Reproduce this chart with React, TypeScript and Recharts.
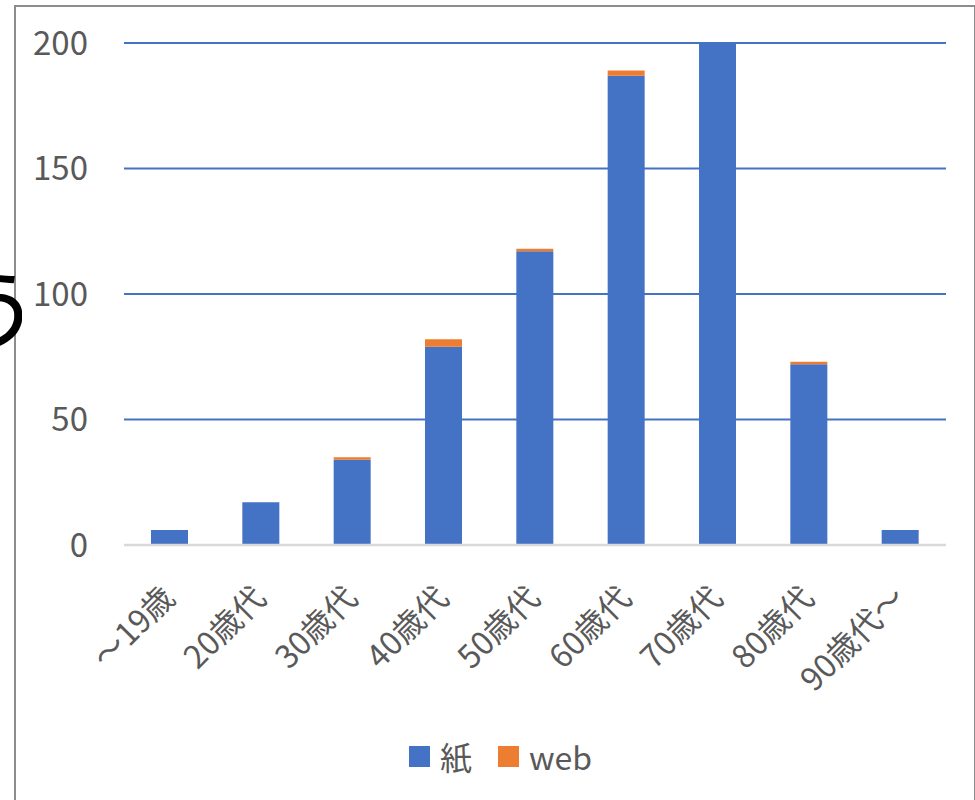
import { BarChart, Bar, XAxis, YAxis, CartesianGrid } from "recharts";

const AGES = ["～19歳", "20歳代", "30歳代", "40歳代", "50歳代", "60歳代", "70歳代", "80歳代", "90歳代～"];
const PAPER = [6, 17, 34, 79, 117, 187, 200, 72, 6];
const WEB = [0, 0, 1, 3, 1, 2, 0, 1, 0];
const Y_TICKS = [0, 50, 100, 150, 200];

const SERIES = [
  { key: "paper", name: "紙", color: "#4472C4" },
  { key: "web", name: "web", color: "#ED7D31" },
];

const FONT = '"Noto Sans CJK JP", "Noto Sans", sans-serif';
const TEXT_GRAY = "#595959";

const data = AGES.map((age, i) => ({ age, paper: PAPER[i], web: WEB[i] }));

function AgeTick({ x, y, payload }: any) {
  return (
    <g transform={`translate(${x + 7},${y + 47})`}>
      <text
        textAnchor="end"
        transform="rotate(-45)"
        fill={TEXT_GRAY}
        fontSize={32}
        fontFamily={FONT}
      >
        {payload.value}
      </text>
    </g>
  );
}

function CountTick({ y, payload }: any) {
  return (
    <text x={88} y={y} dy="0.36em" textAnchor="end" fill={TEXT_GRAY} fontSize={33} fontFamily={FONT}>
      {payload.value}
    </text>
  );
}

export default function App() {
  return (
    <div
      style={{
        position: "absolute",
        left: 0,
        top: 0,
        width: 975,
        height: 800,
        overflow: "hidden",
        background: "#fff",
        fontFamily: FONT,
      }}
    >
      <div
        style={{
          position: "absolute",
          left: 14,
          top: 5,
          width: 958,
          height: 820,
          border: "2px solid #8c8c8c",
        }}
      />
      {/* edge of a cropped glyph left of the frame */}
      <div
        style={{
          position: "absolute",
          left: 0,
          top: 258,
          width: 22,
          height: 96,
          overflow: "hidden",
        }}
      >
        <div
          style={{
            position: "absolute",
            left: -54,
            top: 0,
            fontSize: 95,
            lineHeight: 1,
            color: "#000",
          }}
        >
          う
        </div>
      </div>

      <div style={{ position: "absolute", left: 0, top: 0 }}>
        <BarChart
          width={975}
          height={800}
          data={data}
          margin={{ top: 43, right: 29, left: 0, bottom: 0 }}
        >
          <CartesianGrid vertical={false} stroke="#4472C4" strokeWidth={2} />
          <XAxis
            dataKey="age"
            height={255}
            interval={0}
            tickLine={false}
            axisLine={{ stroke: "#D9D9D9", strokeWidth: 2.5 }}
            tick={<AgeTick />}
          />
          <YAxis
            width={124}
            domain={[0, 200]}
            ticks={Y_TICKS}
            axisLine={false}
            tickLine={false}
            tick={<CountTick />}
          />
          {SERIES.map((s) => (
            <Bar
              key={s.key}
              dataKey={s.key}
              name={s.name}
              stackId="a"
              fill={s.color}
              barSize={37}
              isAnimationActive={false}
            />
          ))}
        </BarChart>
      </div>

      <div
        style={{
          position: "absolute",
          top: 737,
          left: 0,
          width: 1001,
          display: "flex",
          justifyContent: "center",
          gap: 26,
        }}
      >
        {SERIES.map((s) => (
          <div key={s.key} style={{ display: "flex", alignItems: "center", gap: 10 }}>
            <span style={{ width: 21, height: 21, background: s.color, display: "inline-block" }} />
            <span style={{ fontSize: 32, color: TEXT_GRAY, lineHeight: "38px" }}>{s.name}</span>
          </div>
        ))}
      </div>
    </div>
  );
}
